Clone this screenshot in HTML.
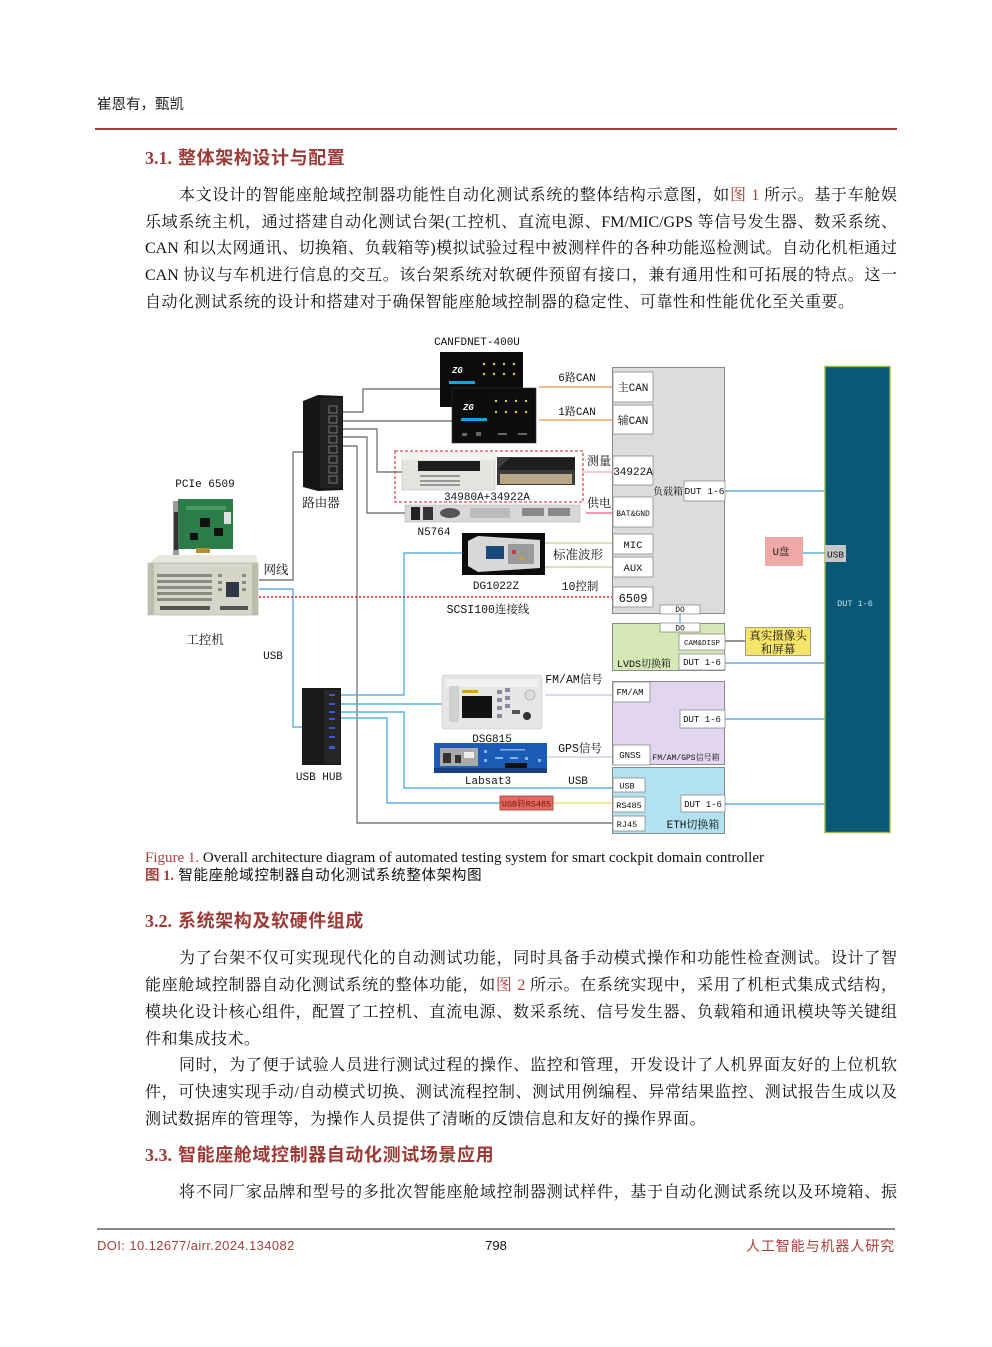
<!DOCTYPE html>
<html><head><meta charset="utf-8">
<style>
html,body{margin:0;padding:0;background:#fff;}
body{width:992px;height:1347px;position:relative;overflow:hidden;font-family:"Liberation Serif","Noto Serif CJK SC",serif;color:#111;}
.ab{position:absolute;}
.ln{position:absolute;left:145px;width:752px;height:27px;line-height:27px;font-size:16px;text-align:justify;text-align-last:justify;white-space:nowrap;}
.ln.ind{left:179px;width:718px;}
.ln.last{text-align:left;text-align-last:left;letter-spacing:0.5px;}
.red{color:#a8403a;}
.h{position:absolute;left:145px;font-size:18px;line-height:24px;font-weight:bold;color:#9c3a36;letter-spacing:0.6px;font-family:"Liberation Serif","Noto Sans CJK SC",sans-serif;}
.h .n{font-family:"Liberation Serif",serif;margin-right:6px;letter-spacing:0;}
svg text{font-family:"Liberation Mono","Noto Serif CJK SC",monospace;fill:#111;}
</style></head>
<body>

<div class="ab" style="left:97px;top:95px;font-size:14.5px;line-height:20px;font-family:'Liberation Sans','Noto Sans CJK SC',sans-serif;color:#222;">崔恩有，甄凯</div>
<div class="ab" style="left:95px;top:128px;width:802px;height:2px;background:#a5403c;"></div>

<div class="h" style="top:146px;"><span class="n">3.1.</span>整体架构设计与配置</div>

<div class="ln ind" style="top:182px;">本文设计的智能座舱域控制器功能性自动化测试系统的整体结构示意图，如<span class="red">图 1</span> 所示。基于车舱娱</div>
<div class="ln" style="top:209px;">乐域系统主机，通过搭建自动化测试台架(工控机、直流电源、FM/MIC/GPS 等信号发生器、数采系统、</div>
<div class="ln" style="top:235px;">CAN 和以太网通讯、切换箱、负载箱等)模拟试验过程中被测样件的各种功能巡检测试。自动化机柜通过</div>
<div class="ln" style="top:262px;">CAN 协议与车机进行信息的交互。该台架系统对软硬件预留有接口，兼有通用性和可拓展的特点。这一</div>
<div class="ln last" style="top:289px;">自动化测试系统的设计和搭建对于确保智能座舱域控制器的稳定性、可靠性和性能优化至关重要。</div>

<svg class="ab" style="left:0;top:0;" width="992" height="1347" viewBox="0 0 992 1347">
  <!-- ===== connectors ===== -->
  <g fill="none" stroke-width="1.4">
    <path d="M340 412 H363 V389 H440" stroke="#7a7a7a"/>
    <path d="M340 421 H452" stroke="#7a7a7a"/>
    <path d="M340 429 H377 V472 H402" stroke="#7a7a7a"/>
    <path d="M340 437 H367 V513 H406" stroke="#7a7a7a"/>
    <path d="M340 446 H357 V823 H613" stroke="#7a7a7a"/>
    <path d="M259 580 H293 V452 H303" stroke="#7a7a7a"/>
    <path d="M259 589 H293 V727 H303" stroke="#5ab0e0"/>
    <path d="M341 695 H404 V553 H462" stroke="#5ab0e0"/>
    <path d="M341 704 H443" stroke="#5ab0e0"/>
    <path d="M341 712 H404 V788 H613" stroke="#5ab0e0"/>
    <path d="M341 718 H387 V803 H500" stroke="#5ab0e0"/>
    <path d="M539 387 H613" stroke="#f4a460"/>
    <path d="M539 420 H613" stroke="#f4a460"/>
    <path d="M583 472 H613" stroke="#f3b8c6"/>
    <path d="M586 513 H613" stroke="#e8789c"/>
    <path d="M545 543 H613" stroke="#c6d9a6"/>
    <path d="M545 567 H613" stroke="#c6d9a6"/>
    <path d="M545 695 H613" stroke="#d6c8e2"/>
    <path d="M547 757 H613" stroke="#d6cfe0"/>
    <path d="M553 803 H613" stroke="#f0e070"/>
    <path d="M725 491 H825" stroke="#5ab0e0"/>
    <path d="M725 663 H825" stroke="#5ab0e0"/>
    <path d="M725 719 H825" stroke="#5ab0e0"/>
    <path d="M725 804 H825" stroke="#5ab0e0"/>
    <path d="M803 553 H825" stroke="#5ab0e0"/>
    <path d="M680 613 V623" stroke="#5ab0e0"/>
    <path d="M725 641 H745" stroke="#707070"/>
    <path d="M259 597 H613" stroke="#e02028" stroke-dasharray="2,2" stroke-width="1.5"/>
  </g>

  <!-- ===== CAN devices ===== -->
  <text x="477" y="345" font-size="11" text-anchor="middle">CANFDNET-400U</text>
  <rect x="440" y="352" width="83" height="55" fill="#0b0b0b"/>
  <text x="452" y="373" font-size="9" font-style="italic" style="fill:#fff;font-weight:bold">ZG</text>
  <rect x="449" y="381" width="26" height="3" fill="#1ea0e0"/>
  <g fill="#e0d040">
    <circle cx="484" cy="364" r="1.2"/><circle cx="494" cy="364" r="1.2"/><circle cx="504" cy="364" r="1.2"/><circle cx="514" cy="364" r="1.2"/>
    <circle cx="484" cy="374" r="1.2"/><circle cx="494" cy="374" r="1.2"/><circle cx="504" cy="374" r="1.2"/><circle cx="514" cy="374" r="1.2"/>
  </g>
  <rect x="452" y="388" width="84" height="55" fill="#0d0d0d" stroke="#333" stroke-width="0.6"/>
  <text x="463" y="410" font-size="9" font-style="italic" style="fill:#fff;font-weight:bold">ZG</text>
  <rect x="461" y="418" width="26" height="3" fill="#1ea0e0"/>
  <g fill="#e0d040">
    <circle cx="496" cy="401" r="1.2"/><circle cx="506" cy="401" r="1.2"/><circle cx="516" cy="401" r="1.2"/><circle cx="526" cy="401" r="1.2"/>
    <circle cx="496" cy="412" r="1.2"/><circle cx="506" cy="412" r="1.2"/><circle cx="516" cy="412" r="1.2"/><circle cx="526" cy="412" r="1.2"/>
  </g>
  <g fill="#666"><rect x="462" y="433" width="5" height="3"/><rect x="476" y="432" width="5" height="4"/><rect x="498" y="433" width="9" height="2"/><rect x="518" y="433" width="9" height="2"/></g>

  <!-- ===== Router ===== -->
  <polygon points="303,401 318,395 343,396 343,490 318,491 303,487" fill="#151515"/>
  <rect x="320" y="398" width="22" height="90" fill="#222"/>
  <g fill="none" stroke="#8a8a8a" stroke-width="0.8">
    <rect x="329" y="406" width="8" height="7"/><rect x="329" y="416" width="8" height="7"/><rect x="329" y="426" width="8" height="7"/><rect x="329" y="436" width="8" height="7"/>
    <rect x="329" y="446" width="8" height="7"/><rect x="329" y="456" width="8" height="7"/><rect x="329" y="466" width="8" height="7"/><rect x="329" y="476" width="8" height="7"/>
  </g>
  <text x="321" y="507" font-size="12.5" text-anchor="middle">路由器</text>

  <!-- ===== PCIe + PC ===== -->
  <text x="205" y="487" font-size="11" text-anchor="middle">PCIe 6509</text>
  <rect x="173" y="501" width="6" height="60" fill="#9a9a9a"/>
  <rect x="174" y="512" width="4" height="38" fill="#333"/>
  <rect x="178" y="499" width="55" height="50" fill="#2b7c48"/>
  <rect x="186" y="506" width="40" height="4" fill="#4a9a60"/>
  <rect x="200" y="518" width="10" height="9" fill="#111"/>
  <rect x="214" y="528" width="9" height="8" fill="#111"/>
  <rect x="190" y="533" width="8" height="7" fill="#111"/>
  <rect x="224" y="512" width="7" height="12" fill="#ddd"/>
  <rect x="196" y="548" width="14" height="5" fill="#b09030"/>
  <polygon points="150,563 158,555 256,555 258,563" fill="#e8e8dc"/>
  <rect x="148" y="563" width="110" height="52" fill="#d6d6c8" stroke="#aaa" stroke-width="0.6"/>
  <rect x="148" y="563" width="6" height="52" fill="#bdbdae"/>
  <rect x="252" y="563" width="6" height="52" fill="#bdbdae"/>
  <g fill="#8a8a80">
    <rect x="157" y="574" width="55" height="3"/><rect x="157" y="580" width="55" height="3"/><rect x="157" y="586" width="55" height="3"/><rect x="157" y="592" width="55" height="3"/><rect x="157" y="598" width="55" height="3"/>
    <rect x="218" y="574" width="4" height="3"/><rect x="218" y="581" width="4" height="3"/><rect x="218" y="588" width="4" height="3"/><rect x="242" y="574" width="4" height="3"/><rect x="242" y="581" width="4" height="3"/><rect x="242" y="588" width="4" height="3"/>
  </g>
  <rect x="226" y="582" width="13" height="15" fill="#303848"/>
  <rect x="160" y="606" width="50" height="4" fill="#555"/>
  <rect x="220" y="606" width="28" height="4" fill="#555"/>
  <text x="276" y="574" font-size="12.5" text-anchor="middle">网线</text>
  <text x="205" y="644" font-size="12.5" text-anchor="middle">工控机</text>
  <text x="273" y="659" font-size="11" text-anchor="middle">USB</text>

  <!-- ===== USB HUB ===== -->
  <rect x="302" y="688" width="39" height="77" fill="#1a1a1a"/>
  <rect x="324" y="690" width="16" height="74" fill="#262626"/>
  <g fill="#3a5ad0">
    <rect x="329" y="694" width="6" height="2"/><rect x="329" y="703" width="6" height="2"/><rect x="329" y="711" width="6" height="2"/><rect x="329" y="718" width="6" height="2"/><rect x="329" y="727" width="6" height="2"/><rect x="329" y="736" width="6" height="2"/><rect x="329" y="746" width="6" height="3"/>
  </g>
  <text x="319" y="780" font-size="11" text-anchor="middle">USB HUB</text>

  <!-- ===== 34980A + 34922A ===== -->
  <rect x="395" y="451" width="188" height="51" fill="none" stroke="#e04848" stroke-width="1.3" stroke-dasharray="3,2"/>
  <rect x="402" y="453" width="93" height="37" fill="#e4e4e0" stroke="#bbb" stroke-width="0.6"/>
  <rect x="402" y="453" width="93" height="7" fill="#f2f2ee"/>
  <rect x="418" y="461" width="62" height="10" fill="#1e1e1e"/>
  <g fill="#999"><rect x="420" y="475" width="40" height="2"/><rect x="420" y="480" width="40" height="2"/><rect x="420" y="484" width="40" height="2"/></g>
  <rect x="497" y="457" width="78" height="28" fill="#3c3c3c"/>
  <polygon points="497,470 510,458 575,458 575,470" fill="#1e1e1e"/>
  <rect x="500" y="474" width="72" height="10" fill="#b8a888"/>
  <text x="487" y="500" font-size="11" text-anchor="middle">34980A+34922A</text>

  <!-- ===== N5764 ===== -->
  <rect x="405" y="505" width="175" height="17" fill="#d8d8d8" stroke="#aaa" stroke-width="0.5"/>
  <rect x="411" y="507" width="9" height="13" fill="#222"/><rect x="423" y="507" width="10" height="13" fill="#333"/>
  <ellipse cx="450" cy="513" rx="10" ry="5" fill="#555"/>
  <rect x="470" y="508" width="40" height="10" fill="#bbb"/>
  <rect x="522" y="508" width="22" height="8" fill="#888"/><rect x="548" y="508" width="22" height="8" fill="#888"/>
  <text x="434" y="535" font-size="11" text-anchor="middle">N5764</text>

  <!-- ===== DG1022Z ===== -->
  <rect x="462" y="533" width="83" height="42" fill="#0c0c0c"/>
  <polygon points="468,541 478,536 540,540 540,568 478,572 468,566" fill="#d8d8d8"/>
  <rect x="486" y="546" width="18" height="13" fill="#1a4a7a"/>
  <rect x="508" y="544" width="26" height="20" fill="#9a9a9a"/>
  <rect x="512" y="550" width="4" height="4" fill="#c04040"/><rect x="520" y="556" width="4" height="4" fill="#c0a040"/>
  <text x="496" y="589" font-size="11" text-anchor="middle">DG1022Z</text>

  <!-- ===== DSG815 ===== -->
  <rect x="442" y="675" width="100" height="54" rx="3" fill="#e6e6e6" stroke="#c4c4c4" stroke-width="0.6"/>
  <rect x="446" y="679" width="92" height="8" fill="#f2f2f2"/>
  <rect x="449" y="686" width="10" height="36" fill="#cfcfcf"/>
  <rect x="462" y="696" width="30" height="22" fill="#111"/>
  <rect x="462" y="690" width="16" height="3" fill="#d8a020"/>
  <g fill="#8a8aa0"><rect x="497" y="690" width="5" height="4"/><rect x="497" y="698" width="5" height="4"/><rect x="497" y="706" width="5" height="4"/><rect x="497" y="714" width="5" height="4"/><rect x="505" y="688" width="5" height="4"/><rect x="505" y="696" width="5" height="4"/><rect x="505" y="704" width="5" height="4"/></g>
  <circle cx="530" cy="695" r="5" fill="#ddd" stroke="#999" stroke-width="0.6"/>
  <circle cx="527" cy="716" r="4" fill="#333"/>
  <rect x="512" y="710" width="8" height="4" fill="#555"/>
  <text x="492" y="742" font-size="11" text-anchor="middle">DSG815</text>

  <!-- ===== Labsat3 ===== -->
  <rect x="434" y="743" width="113" height="30" fill="#1d5cb6"/>
  <rect x="434" y="768" width="113" height="5" fill="#163f85"/>
  <rect x="440" y="748" width="38" height="18" fill="#aaa"/>
  <rect x="443" y="753" width="8" height="10" fill="#333"/><rect x="455" y="755" width="6" height="8" fill="#333"/><rect x="464" y="752" width="10" height="6" fill="#eee"/>
  <g fill="#8ab0e8"><rect x="484" y="750" width="3" height="3"/><rect x="484" y="759" width="3" height="3"/><rect x="495" y="757" width="8" height="2"/><rect x="510" y="757" width="8" height="2"/><rect x="525" y="757" width="3" height="3"/><rect x="538" y="759" width="3" height="3"/><rect x="500" y="749" width="25" height="1.5"/></g>
  <rect x="505" y="763" width="22" height="5" fill="#111"/>
  <text x="488" y="784" font-size="11" text-anchor="middle">Labsat3</text>

  <rect x="500" y="796" width="53" height="14" fill="#e06a60" stroke="#a23a30" stroke-width="0.8"/>
  <text x="526.5" y="806.5" font-size="8.5" text-anchor="middle" style="fill:#7a1010">USB转RS485</text>

  <!-- ===== connector labels ===== -->
  <text x="577" y="381" font-size="11" text-anchor="middle">6路CAN</text>
  <text x="577" y="415" font-size="11" text-anchor="middle">1路CAN</text>
  <text x="599" y="465" font-size="12" text-anchor="middle">测量</text>
  <text x="599" y="507" font-size="12" text-anchor="middle">供电</text>
  <text x="578" y="559" font-size="12.5" text-anchor="middle">标准波形</text>
  <text x="580" y="590" font-size="11.5" text-anchor="middle">10控制</text>
  <text x="488" y="613" font-size="11.5" text-anchor="middle">SCSI100连接线</text>
  <text x="574" y="683" font-size="11.5" text-anchor="middle">FM/AM信号</text>
  <text x="580" y="752" font-size="11.5" text-anchor="middle">GPS信号</text>
  <text x="578" y="784" font-size="11" text-anchor="middle">USB</text>

  <!-- ===== Load box ===== -->
  <rect x="612.5" y="367.5" width="112" height="246" fill="#dcdcdc" stroke="#8a8a8a" stroke-width="1"/>
  <g fill="#fff" stroke="#8a8a8a" stroke-width="0.8">
    <rect x="613" y="372" width="40" height="30"/>
    <rect x="613" y="405" width="40" height="29"/>
    <rect x="613" y="456" width="40" height="29"/>
    <rect x="613" y="497" width="40" height="30"/>
    <rect x="613" y="534" width="40" height="20"/>
    <rect x="613" y="557" width="40" height="20"/>
    <rect x="613" y="587" width="40" height="20"/>
    <rect x="684" y="481" width="41" height="20"/>
    <rect x="660" y="605" width="40" height="9"/>
  </g>
  <text x="633" y="391" font-size="11" text-anchor="middle">主CAN</text>
  <text x="633" y="424" font-size="11" text-anchor="middle">辅CAN</text>
  <text x="633" y="475" font-size="11" text-anchor="middle">34922A</text>
  <text x="633" y="516" font-size="8" text-anchor="middle">BAT&amp;GND</text>
  <text x="633" y="548" font-size="10.5" text-anchor="middle">MIC</text>
  <text x="633" y="571" font-size="10.5" text-anchor="middle">AUX</text>
  <text x="633" y="602" font-size="12" text-anchor="middle">6509</text>
  <text x="668" y="495" font-size="10" text-anchor="middle">负载箱</text>
  <text x="704.5" y="494" font-size="9.5" text-anchor="middle">DUT 1-6</text>
  <text x="680" y="612" font-size="8" text-anchor="middle">DO</text>

  <!-- ===== LVDS box ===== -->
  <rect x="612.5" y="623.5" width="112" height="47" fill="#d5e8b6" stroke="#8a8a8a" stroke-width="1"/>
  <g fill="#fff" stroke="#8a8a8a" stroke-width="0.8">
    <rect x="660" y="623" width="40" height="9"/>
    <rect x="679" y="634" width="46" height="16"/>
    <rect x="679" y="654" width="46" height="16"/>
  </g>
  <text x="680" y="630.5" font-size="8" text-anchor="middle">DO</text>
  <text x="702" y="645" font-size="7.5" text-anchor="middle">CAM&amp;DISP</text>
  <text x="702" y="665" font-size="9" text-anchor="middle">DUT 1-6</text>
  <text x="644" y="667" font-size="10" text-anchor="middle">LVDS切换箱</text>

  <rect x="745.5" y="627.5" width="65" height="28" fill="#f6e46a" stroke="#888" stroke-width="0.8"/>
  <text x="778" y="639.5" font-size="11.5" text-anchor="middle">真实摄像头</text>
  <text x="778" y="653" font-size="11.5" text-anchor="middle">和屏幕</text>

  <!-- ===== FM/AM/GPS box ===== -->
  <rect x="612.5" y="681.5" width="112" height="83" fill="#e2d6ee" stroke="#8a8a8a" stroke-width="1"/>
  <g fill="#fff" stroke="#8a8a8a" stroke-width="0.8">
    <rect x="613" y="682" width="37" height="20"/>
    <rect x="680" y="710" width="45" height="18"/>
    <rect x="613" y="745" width="37" height="20"/>
  </g>
  <text x="630" y="695" font-size="9" text-anchor="middle">FM/AM</text>
  <text x="702" y="722" font-size="9" text-anchor="middle">DUT 1-6</text>
  <text x="630" y="758" font-size="9" text-anchor="middle">GNSS</text>
  <text x="686" y="760" font-size="8" text-anchor="middle">FM/AM/GPS信号箱</text>

  <!-- ===== ETH box ===== -->
  <rect x="612.5" y="767.5" width="112" height="66" fill="#b2e2f2" stroke="#8a8a8a" stroke-width="1"/>
  <g fill="#fff" stroke="#8a8a8a" stroke-width="0.8">
    <rect x="613" y="778" width="32" height="14"/>
    <rect x="613" y="797" width="32" height="15"/>
    <rect x="613" y="816" width="32" height="15"/>
    <rect x="681" y="795" width="44" height="17"/>
  </g>
  <text x="627" y="788.5" font-size="8.5" text-anchor="middle">USB</text>
  <text x="629" y="808" font-size="8.5" text-anchor="middle">RS485</text>
  <text x="627" y="827" font-size="8.5" text-anchor="middle">RJ45</text>
  <text x="703" y="807" font-size="9" text-anchor="middle">DUT 1-6</text>
  <text x="693" y="828" font-size="11" text-anchor="middle">ETH切换箱</text>

  <!-- ===== DUT panel ===== -->
  <rect x="825" y="366.5" width="65" height="466" fill="#0a5877" stroke="#9ab84a" stroke-width="1.4"/>
  <rect x="825" y="545" width="21" height="17" fill="#c6c6c6"/>
  <text x="835.5" y="557.5" font-size="9.5" text-anchor="middle">USB</text>
  <text x="855" y="606" font-size="8.5" text-anchor="middle" style="fill:#cfe3ea">DUT 1-6</text>
  <rect x="765" y="537" width="38" height="29" fill="#f0a8a6"/>
  <text x="781" y="555" font-size="10.5" text-anchor="middle">U盘</text>
</svg>

<div class="ab" style="left:145px;top:849px;font-size:15px;line-height:18px;white-space:nowrap;"><span style="color:#a8403a;">Figure 1.</span> Overall architecture diagram of automated testing system for smart cockpit domain controller</div>
<div class="ab" style="left:145px;top:867px;font-size:14.5px;line-height:18px;white-space:nowrap;letter-spacing:0.7px;font-family:'Liberation Serif','Noto Sans CJK SC',sans-serif;"><span style="color:#a8403a;font-weight:bold;letter-spacing:0;">图 1.</span> 智能座舱域控制器自动化测试系统整体架构图</div>

<div class="h" style="top:909px;"><span class="n">3.2.</span>系统架构及软硬件组成</div>

<div class="ln ind" style="top:945px;">为了台架不仅可实现现代化的自动测试功能，同时具备手动模式操作和功能性检查测试。设计了智</div>
<div class="ln" style="top:972px;">能座舱域控制器自动化测试系统的整体功能，如<span class="red">图 2</span> 所示。在系统实现中，采用了机柜式集成式结构，</div>
<div class="ln" style="top:999px;">模块化设计核心组件，配置了工控机、直流电源、数采系统、信号发生器、负载箱和通讯模块等关键组</div>
<div class="ln last" style="top:1026px;">件和集成技术。</div>
<div class="ln ind" style="top:1052px;">同时，为了便于试验人员进行测试过程的操作、监控和管理，开发设计了人机界面友好的上位机软</div>
<div class="ln" style="top:1079px;">件，可快速实现手动/自动模式切换、测试流程控制、测试用例编程、异常结果监控、测试报告生成以及</div>
<div class="ln last" style="top:1106px;">测试数据库的管理等，为操作人员提供了清晰的反馈信息和友好的操作界面。</div>

<div class="h" style="top:1143px;"><span class="n">3.3.</span>智能座舱域控制器自动化测试场景应用</div>

<div class="ln ind" style="top:1179px;">将不同厂家品牌和型号的多批次智能座舱域控制器测试样件，基于自动化测试系统以及环境箱、振</div>

<div class="ab" style="left:97px;top:1228px;width:798px;height:2px;background:#8a8a8a;"></div>
<div class="ab" style="left:97px;top:1237px;font-size:13px;line-height:18px;color:#a8403a;font-family:'Liberation Sans',sans-serif;letter-spacing:0.4px;white-space:nowrap;">DOI: 10.12677/airr.2024.134082</div>
<div class="ab" style="left:476px;top:1237px;width:40px;text-align:center;font-size:13px;line-height:18px;font-family:'Liberation Sans',sans-serif;color:#111;">798</div>
<div class="ab" style="left:745px;top:1236px;width:150px;text-align:right;font-size:14px;line-height:20px;color:#a8403a;font-family:'Liberation Sans','Noto Sans CJK SC',sans-serif;letter-spacing:0.9px;white-space:nowrap;">人工智能与机器人研究</div>

</body></html>
